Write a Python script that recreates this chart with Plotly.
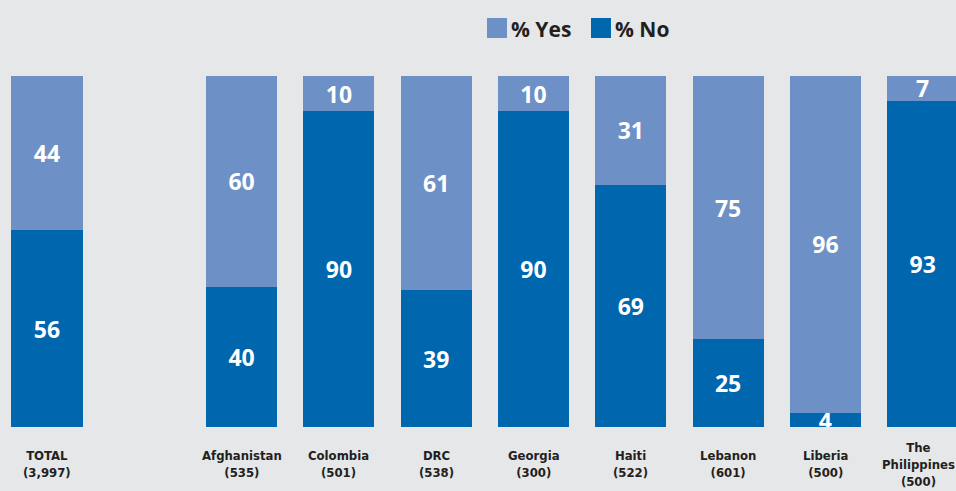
import plotly.graph_objects as go

# ---- data ----
total_label = "TOTAL"
total_n = "3,997"
total_yes = 44
total_no = 56

countries = ["Afghanistan", "Colombia", "DRC", "Georgia", "Haiti", "Lebanon", "Liberia", "The<br>Philippines"]
country_n = ["535", "501", "538", "300", "522", "601", "500", "500"]
yes_values = [60, 10, 61, 10, 31, 75, 96, 7]
no_values = [40, 90, 39, 90, 69, 25, 4, 93]

series_names = ["% Yes", "% No"]

# ---- styling ----
C_YES = "#6d90c6"
C_NO = "#0066ae"
BG = "#e6e7e9"
TXT = "#231f20"
W, H = 956, 491
L, R, T, B = 0, 0, 76, 64

labels = [total_label] + countries
ns = [total_n] + country_n
yes_all = [total_yes] + yes_values
no_all = [total_no] + no_values
xpos = [0] + [i + 2 for i in range(len(countries))]

fig = go.Figure()
fig.add_trace(go.Bar(
    x=xpos, y=no_all, name=series_names[1], marker=dict(color=C_NO, line=dict(width=0)),
    width=0.73, text=[str(v) for v in no_all], textposition="inside",
    insidetextanchor="middle", textangle=0,
    textfont=dict(family="Open Sans", size=23, color="white", weight="bold"),
    showlegend=False, hoverinfo="skip"))
fig.add_trace(go.Bar(
    x=xpos, y=yes_all, name=series_names[0], marker=dict(color=C_YES, line=dict(width=0)),
    width=0.73, text=[str(v) for v in yes_all], textposition="inside",
    insidetextanchor="middle", textangle=0,
    textfont=dict(family="Open Sans", size=23, color="white", weight="bold"),
    showlegend=False, hoverinfo="skip"))

ph = H - T - B
def py(p):
    return (H - B - p) / ph

annotations = []
for i, (x, lab, n) in enumerate(zip(xpos, labels, ns)):
    annotations.append(dict(
        x=x, xref="x", y=py(464), yref="paper", yanchor="middle", xanchor="center",
        xshift=-4 if i == len(labels) - 1 else 0,
        text=f"{lab}<br>({n})", showarrow=False, align="center",
        font=dict(family="Liberation Sans Narrow, DejaVu Sans Condensed, sans-serif",
                  size=13, color=TXT, weight="bold")))

# legend (drawn)
shapes = []
leg = [(487, C_YES, series_names[0]), (591, C_NO, series_names[1])]
for x0, col, name in leg:
    shapes.append(dict(type="rect", xref="paper", yref="paper",
                       x0=x0 / W, x1=(x0 + 20) / W, y0=py(38), y1=py(18),
                       fillcolor=col, line=dict(width=0)))
    annotations.append(dict(x=(x0 + 22) / W, xref="paper", y=py(29), yref="paper",
                            xanchor="left", yanchor="middle", text=name, showarrow=False,
                            font=dict(family="Open Sans", size=21, color=TXT, weight="bold")))

fig.update_layout(
    width=W, height=H, margin=dict(l=L, r=R, t=T, b=B),
    paper_bgcolor=BG, plot_bgcolor=BG, barmode="stack",
    uniformtext=dict(minsize=23, mode="show"),
    xaxis=dict(range=[-47 / 97.3, (W - 47) / 97.3], showgrid=False, zeroline=False,
               showticklabels=False, showline=False, fixedrange=True),
    yaxis=dict(range=[0, 100], showgrid=False, zeroline=False, showticklabels=False,
               showline=False, fixedrange=True),
    annotations=annotations, shapes=shapes, showlegend=False,
)

fig.write_html("out.html", config={"displayModeBar": False},
               post_script="document.body.style.margin='0';document.body.style.overflow='hidden';")
